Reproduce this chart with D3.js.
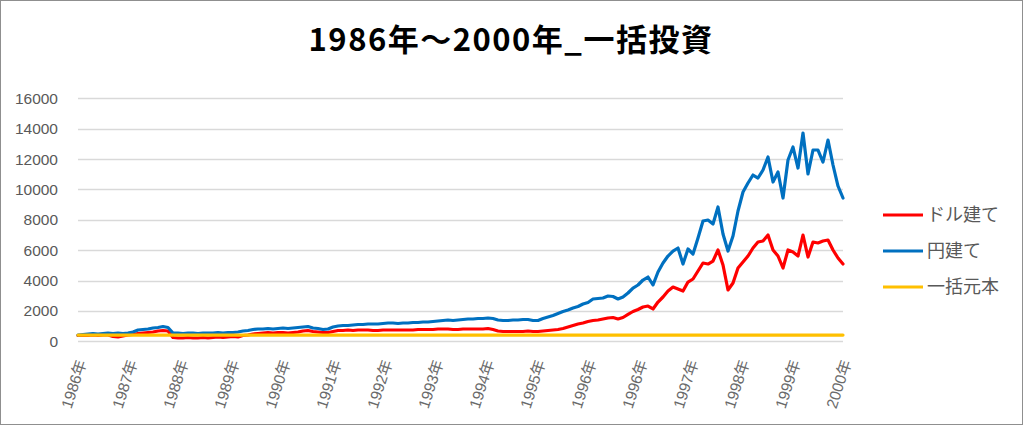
<!DOCTYPE html>
<html>
<head>
<meta charset="utf-8">
<script src="https://cdn.jsdelivr.net/npm/d3@7"></script>
<style>
  html, body { margin: 0; padding: 0; background: #fff; }
  svg { display: block; }
</style>
</head>
<body>
<svg id="chart" width="1024" height="426"></svg>
<script>
// ---- DATA ----
const titleText = "1986年～2000年_一括投資";
const seriesNames = ["ドル建て", "円建て", "一括元本"];
const xTickLabels = ["1986年","1987年","1988年","1989年","1990年","1991年","1992年","1993年",
                     "1994年","1995年","1996年","1996年","1997年","1998年","1999年","2000年"];
const yTicks = [0, 2000, 4000, 6000, 8000, 10000, 12000, 14000, 16000];

// ドル建て (red)
const dollarValues = [
  382,382,382,415,382,415,415,316,283,349,
  415,448,514,546,579,612,678,711,678,250,
  217,217,250,217,217,250,217,250,283,250,
  283,316,283,382,415,481,514,546,579,546,
  579,579,546,579,612,678,711,645,612,579,
  579,645,711,711,744,711,744,744,744,711,
  711,744,744,744,744,744,744,744,777,777,
  777,777,810,810,810,777,777,810,810,810,
  810,810,843,777,678,645,645,645,645,645,
  678,645,645,678,711,744,777,843,941,1040,
  1139,1205,1304,1369,1402,1468,1534,1567,1468,1567,
  1765,1962,2094,2258,2324,2127,2587,2917,3312,3575,
  3443,3312,3904,4102,4629,5155,5089,5287,6011,5024,
  3378,3840,4826,5221,5616,6143,6538,6604,6999,6011,
  5616,4826,6011,5879,5616,6999,5550,6538,6472,6604,
  6670,6011,5484,5089
];
// 円建て (blue)
const yenValues = [
  415,448,481,514,481,514,546,514,546,514,
  546,612,744,777,810,876,909,974,909,546,
  546,514,546,546,514,546,546,546,579,546,
  579,579,612,678,711,777,810,810,843,810,
  843,876,843,876,909,941,974,876,843,777,
  810,941,1007,1040,1040,1073,1106,1106,1139,1139,
  1139,1172,1205,1205,1172,1205,1205,1238,1238,1271,
  1271,1304,1337,1369,1402,1369,1402,1435,1468,1468,
  1501,1501,1534,1501,1402,1369,1369,1402,1402,1435,
  1435,1369,1369,1501,1600,1699,1830,1962,2061,2192,
  2291,2456,2555,2785,2818,2851,2983,2950,2785,2917,
  3180,3509,3707,4036,4233,3707,4563,5155,5616,5945,
  6143,5089,6077,5748,6801,7921,7986,7723,8842,7065,
  5945,6933,8579,9830,10422,10949,10752,11278,12134,10488,
  11147,9435,11937,12793,11410,13714,11015,12595,12595,11805,
  13254,11608,10225,9435
];
// 一括元本 (yellow) - constant principal
const principalValues = yenValues.map(() => 410);

const colors = ["#FF0000", "#0070C0", "#FFC000"];

// ---- LAYOUT ----
const svg = d3.select("#chart");
const W = 1024, H = 426;
const plot = { left: 78, right: 843, top: 98.3, bottom: 341.3 };

svg.append("rect")
  .attr("x", 0.5).attr("y", 0.5)
  .attr("width", W - 2).attr("height", H - 2)
  .attr("fill", "#fff").attr("stroke", "#8f8f8f").attr("stroke-width", 1);

const n = yenValues.length;
const x = d3.scaleLinear().domain([0, n - 1]).range([plot.left, plot.right]);
const y = d3.scaleLinear().domain([0, 16000]).range([plot.bottom, plot.top]);

// Gridlines
svg.append("g").selectAll("line").data(yTicks).join("line")
  .attr("x1", plot.left).attr("x2", plot.right)
  .attr("y1", d => Math.round(y(d)) + 0.5).attr("y2", d => Math.round(y(d)) + 0.5)
  .attr("stroke", "#D9D9D9").attr("stroke-width", 1.3);

// Y axis labels
const yAxis = d3.axisLeft(y).tickValues(yTicks).tickSize(0).tickPadding(0).tickFormat(d3.format("d"));
const gy = svg.append("g").attr("transform", `translate(${plot.left - 20},0)`).call(yAxis);
gy.select(".domain").remove();
gy.selectAll("text")
  .attr("fill", "#595959")
  .style("font-family", "'Liberation Sans', Arial, sans-serif")
  .style("font-size", "15.5px");

// X axis labels (category style, evenly spaced)
const tickIdx = xTickLabels.map((_, i) => i * (n - 1) / (xTickLabels.length - 1));
const xAxis = d3.axisBottom(x).tickValues(tickIdx).tickSize(0).tickPadding(0)
  .tickFormat((d, i) => xTickLabels[i]);
const gx = svg.append("g").attr("transform", `translate(0,${plot.bottom})`).call(xAxis);
gx.select(".domain").remove();
gx.selectAll("text")
  .attr("fill", "#6a6a6a")
  .style("font-family", "'Liberation Sans', 'Noto Sans CJK JP', sans-serif")
  .style("font-size", "15.5px")
  .attr("text-anchor", "end")
  .attr("dy", "0.35em")
  .attr("y", 0)
  .attr("transform", `translate(3,19) rotate(-72)`);

// Lines
const line = d3.line().x((d, i) => x(i)).y(d => y(d));
const allSeries = [dollarValues, yenValues, principalValues];
svg.append("g").selectAll("path").data(allSeries).join("path")
  .attr("d", d => line(d))
  .attr("fill", "none")
  .attr("stroke", (d, i) => colors[i])
  .attr("stroke-width", 3.2)
  .attr("stroke-linejoin", "round")
  .attr("stroke-linecap", "round");

// Title
svg.append("text")
  .attr("x", 511).attr("y", 51)
  .attr("text-anchor", "middle")
  .attr("fill", "#000")
  .style("font-family", "'Noto Sans CJK JP', sans-serif")
  .style("font-weight", "bold")
  .style("font-size", "31px")
  .style("letter-spacing", "1.5px")
  .text(titleText);

// Legend
const legendY = [215, 251, 287];
const lg = svg.append("g").selectAll("g").data(seriesNames).join("g")
  .attr("transform", (d, i) => `translate(883,${legendY[i]})`);
lg.append("line").attr("x1", 0).attr("x2", 40).attr("y1", 0).attr("y2", 0)
  .attr("stroke", (d, i) => colors[i]).attr("stroke-width", 3);
lg.append("text").attr("x", 44).attr("dy", "0.36em")
  .attr("fill", "#595959")
  .style("font-family", "'Noto Sans CJK JP', sans-serif")
  .style("font-size", "18px")
  .text(d => d);
</script>
</body>
</html>
